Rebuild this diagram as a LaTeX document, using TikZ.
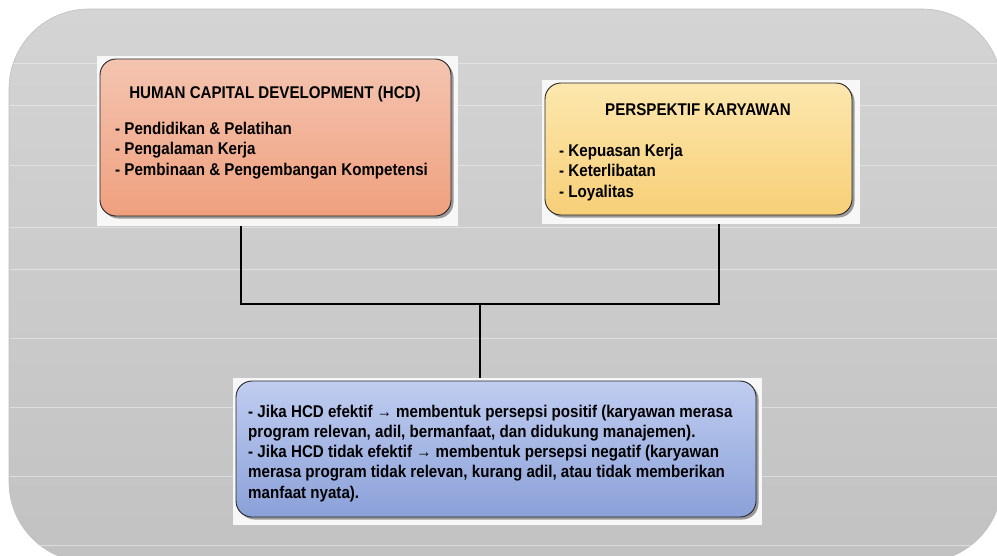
\documentclass[tikz,border=0pt]{standalone}
\usepackage{fontspec}
\setmainfont{Liberation Sans}[FakeStretch=0.89]
\usepackage{tikz}
\usepackage{xcolor}
\definecolor{sheettop}{HTML}{D4D4D4}
\definecolor{sheetbot}{HTML}{C2C2C2}
\definecolor{hcdtop}{HTML}{F4C4B0}
\definecolor{hcdbot}{HTML}{EFA07E}
\definecolor{pertop}{HTML}{FCE7AE}
\definecolor{perbot}{HTML}{F7CF77}
\definecolor{outtop}{HTML}{C0CDF0}
\definecolor{outbot}{HTML}{8AA0D8}
\tikzset{x=1pt, y=-1pt,
 sheet/.style={top color=sheettop, bottom color=sheetbot, draw=black!25, line width=0.6pt, rounded corners=80pt},
 gridline/.style={draw=white!60!sheettop, line width=0.6pt, opacity=0.6},
 back/.style={fill=white!97!black, draw=none, inner sep=0pt},
 card/.style={draw=black!85, line width=0.9pt, rounded corners=16pt, inner sep=0pt,
   drop shadow={shadow xshift=2.5pt, shadow yshift=-2.5pt, fill=black!55, opacity=0.7}},
 titletext/.style={anchor=base, inner sep=0pt, font=\fontsize{17}{20}\selectfont\bfseries},
 listtext/.style={anchor=base west, inner sep=0pt, align=left, font=\fontsize{17}{20.2}\selectfont\bfseries},
 link/.style={draw=black, line width=2pt, line join=miter},
 }
\usetikzlibrary{shadows}

\begin{document}
\begin{tikzpicture}
        \useasboundingbox (0,0) rectangle (997,555);
        \fill [white] (0,0) rectangle (997,555);
        \clip (0,0) rectangle (997,555);
        \path [sheet] (9,9) rectangle (1002,562);
        \begin{scope}
            \clip [rounded corners=80pt] (9,9) rectangle (1002,562);
            \foreach \gy in {63,105,165,227,269,338,407,476,545}
                \draw [gridline] (10,\gy) -- (1001,\gy);
        \end{scope}

        \node [back, minimum width=361pt, minimum height=170pt] (hcdback) at (277.5,141) {};
        \node [card, top color=hcdtop, bottom color=hcdbot, minimum width=351pt, minimum height=157pt] (hcd) at (275.5,137.5) {};
        \node [titletext] (hcdtitle) at (275,98) {HUMAN CAPITAL DEVELOPMENT (HCD)};
        \node [listtext] (hcdlist) at (115,175) {- Pendidikan \& Pelatihan\\- Pengalaman Kerja\\- Pembinaan \& Pengembangan Kompetensi};

        \node [back, minimum width=318pt, minimum height=144pt] (perback) at (701,152) {};
        \node [card, top color=pertop, bottom color=perbot, minimum width=307pt, minimum height=132pt] (per) at (698.5,149) {};
        \node [titletext] (pertitle) at (698,115) {PERSPEKTIF KARYAWAN};
        \node [listtext] (perlist) at (559,197) {- Kepuasan Kerja\\- Keterlibatan\\- Loyalitas};

        \node [back, minimum width=529pt, minimum height=147pt] (outback) at (497.5,451.5) {};
        \node [card, top color=outtop, bottom color=outbot, minimum width=520pt, minimum height=136pt] (out) at (496,449) {};
        \node [listtext] (outlist) at (248,498) {- Jika HCD efektif → membentuk persepsi positif (karyawan merasa\\program relevan, adil, bermanfaat, dan didukung manajemen).\\- Jika HCD tidak efektif → membentuk persepsi negatif (karyawan\\merasa program tidak relevan, kurang adil, atau tidak memberikan\\manfaat nyata).};

        \coordinate (hcdfoot) at (241,304);
        \coordinate (perfoot) at (719,304);
        \coordinate (join) at (480,304);
        \draw [link] (hcdback.south -| hcdfoot) -- (hcdfoot) -- (perfoot) -- (perback.south -| perfoot);
        \draw [link] (join) -- (outback.north -| join);
    \end{tikzpicture}
\end{document}
